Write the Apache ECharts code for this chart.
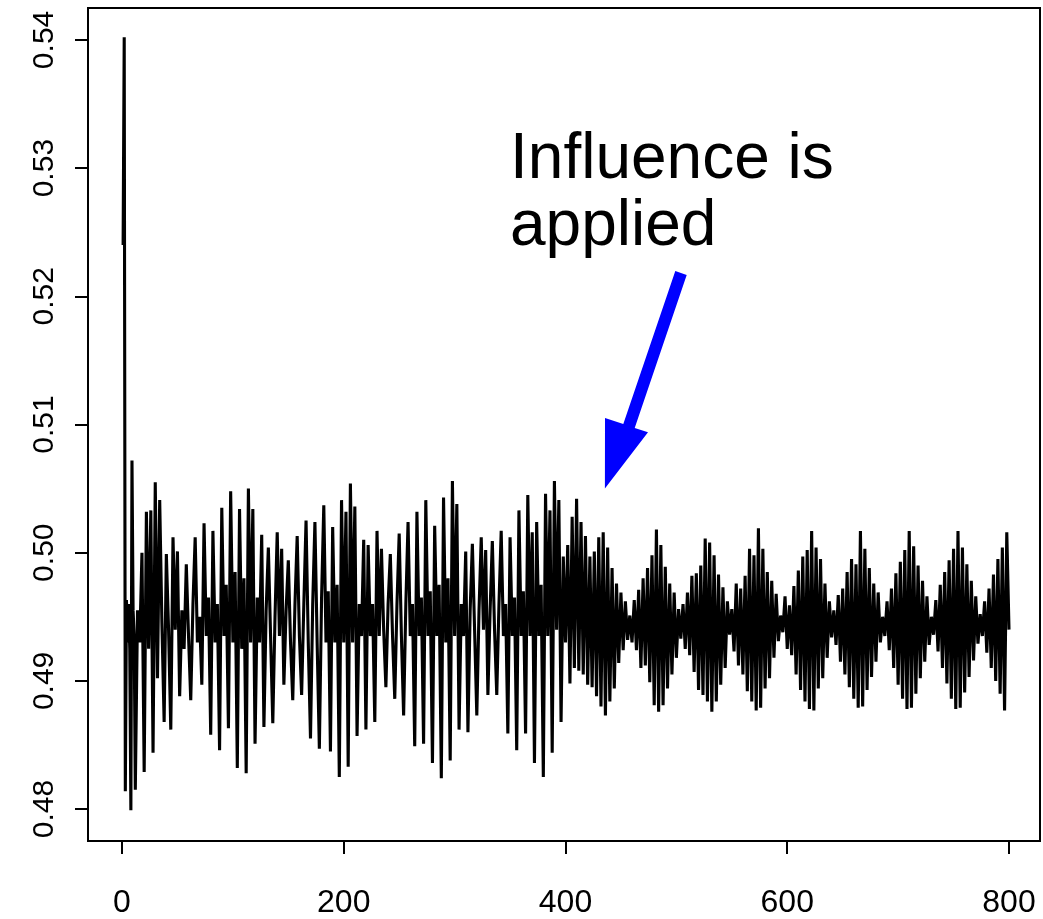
<!DOCTYPE html>
<html>
<head>
<meta charset="utf-8">
<script src="https://cdn.jsdelivr.net/npm/echarts@6/dist/echarts.min.js"></script>
<style>
html,body{margin:0;padding:0;background:#fff;}
#chart{width:1043px;height:919px;}
</style>
</head>
<body>
<div id="chart"></div>
<script>
// x = 1..11, step 1 (initial transient)
const startValues = [0.5240,0.5402,0.4814,0.4963,0.4930,0.4960,0.4925,0.4799,0.5072,0.4955,0.4935];
// x = 12..400, step 2
const firstHalfValues = [
0.4815,0.4955,0.4930,0.5000,0.4829,0.5032,0.4925,0.5033,0.4844,0.5055,
0.4902,0.5041,0.4945,0.4868,0.4999,0.4940,0.4862,0.5012,0.4940,0.5001,
0.4888,0.4955,0.4925,0.4991,0.4935,0.4885,0.4960,0.5012,0.4930,0.4950,
0.4897,0.5023,0.4935,0.4965,0.4858,0.5017,0.4930,0.4960,0.4846,0.5035,
0.4935,0.4975,0.4863,0.5048,0.4930,0.4985,0.4832,0.5034,0.4925,0.4980,
0.4828,0.5050,0.4930,0.5034,0.4851,0.4965,0.4930,0.5014,0.4864,0.4955,
0.5004,0.4935,0.4867,0.4950,0.5016,0.4935,0.5003,0.4897,0.4955,0.4994,
0.4930,0.4885,0.4960,0.5013,0.4935,0.4889,0.4960,0.5025,0.4930,0.4855,
0.4960,0.5024,0.4930,0.4847,0.4965,0.5037,0.4930,0.4970,0.4845,0.5020,
0.4930,0.4975,0.4825,0.5041,0.4930,0.5032,0.4833,0.5054,0.4930,0.5036,
0.4857,0.4960,0.4935,0.5010,0.4862,0.5006,0.4935,0.4960,0.4868,0.5017,
0.4935,0.5003,0.4940,0.4895,0.4960,0.4999,0.4935,0.4886,0.4960,0.5015,
0.4935,0.4873,0.4960,0.5024,0.4935,0.4960,0.4849,0.5032,0.4935,0.4965,
0.4851,0.5041,0.4935,0.4970,0.4836,0.5021,0.4935,0.4975,0.4824,0.5043,
0.4930,0.4980,0.4838,0.5056,0.4935,0.5038,0.4862,0.4960,0.4935,0.5001,
0.4860,0.4955,0.5007,0.4940,0.4873,0.4955,0.5012,0.4940,0.5002,0.4889,
0.4955,0.5009,0.4940,0.4889,0.4960,0.5017,0.4935,0.4960,0.4859,0.5012,
0.4935,0.4965,0.4846,0.5033,0.4935,0.4970,0.4859,0.5045,0.4935,0.5016,
0.4836,0.5024,0.4935,0.4975,0.4825,0.5046,0.4935,0.5033,0.4844,0.5056,
0.4940,0.5041,0.4868,0.4997,0.4930
];
// x = 402..800, step 2 (after influence is applied)
const secondHalfValues = [
0.5006,0.4898,0.5028,0.4910,0.5042,0.4908,0.5024,0.4905,0.5013,0.4897,
0.4997,0.4895,0.5001,0.4888,0.5012,0.4880,0.5016,0.4873,0.5004,0.4884,
0.4988,0.4894,0.4976,0.4914,0.4969,0.4924,0.4962,0.4932,0.4951,0.4930,
0.4963,0.4924,0.4971,0.4910,0.4980,0.4912,0.4988,0.4899,0.4998,0.4881,
0.5018,0.4876,0.5006,0.4881,0.4989,0.4894,0.4976,0.4905,0.4969,0.4918,
0.4956,0.4933,0.4960,0.4925,0.4969,0.4920,0.4982,0.4907,0.4984,0.4893,
0.4990,0.4889,0.5011,0.4884,0.5008,0.4876,0.4998,0.4884,0.4983,0.4897,
0.4973,0.4910,0.4962,0.4936,0.4956,0.4923,0.4976,0.4912,0.4972,0.4905,
0.4982,0.4892,0.5003,0.4884,0.4998,0.4877,0.5019,0.4879,0.5003,0.4894,
0.4985,0.4902,0.4978,0.4918,0.4968,0.4931,0.4951,0.4938,0.4966,0.4925,
0.4959,0.4920,0.4974,0.4905,0.4986,0.4893,0.4997,0.4884,0.5002,0.4878,
0.5017,0.4877,0.5004,0.4894,0.4995,0.4902,0.4976,0.4918,0.4962,0.4934,
0.4955,0.4928,0.4967,0.4915,0.4972,0.4905,0.4985,0.4895,0.4995,0.4886,
0.4991,0.4879,0.5017,0.4880,0.5003,0.4893,0.4988,0.4903,0.4976,0.4915,
0.4969,0.4930,0.4950,0.4935,0.4962,0.4924,0.4972,0.4910,0.4984,0.4897,
0.4993,0.4886,0.5002,0.4878,0.5017,0.4879,0.5005,0.4890,0.4990,0.4902,
0.4978,0.4915,0.4966,0.4928,0.4950,0.4936,0.4963,0.4923,0.4975,0.4910,
0.4985,0.4898,0.4994,0.4886,0.5003,0.4878,0.5017,0.4879,0.5004,0.4891,
0.4991,0.4903,0.4978,0.4916,0.4966,0.4929,0.4952,0.4935,0.4962,0.4922,
0.4972,0.4910,0.4983,0.4900,0.4995,0.4890,0.5004,0.4877,0.5016,0.4940
];
const xTickValues = [0, 200, 400, 600, 800];
const yTickValues = [0.48, 0.49, 0.50, 0.51, 0.52, 0.53, 0.54];
const annotationLines = ['Influence is', 'applied'];

const data = [];
startValues.forEach((v, i) => data.push([1 + i, v]));
firstHalfValues.forEach((v, i) => data.push([12 + 2 * i, v]));
secondHalfValues.forEach((v, i) => data.push([402 + 2 * i, v]));

const FONT = 'Liberation Sans, Arial, Helvetica, sans-serif';
const chart = echarts.init(document.getElementById('chart'), null, {renderer: 'canvas'});
chart.setOption({
  animation: false,
  backgroundColor: '#ffffff',
  grid: {left: 88, right: 3, top: 8, bottom: 76, show: true, borderColor: '#000', borderWidth: 2, backgroundColor: 'transparent'},
  xAxis: {
    type: 'value', min: -30.665, max: 827.96,
    axisLine: {show: false, onZero: false},
    splitLine: {show: false},
    axisTick: {show: true, length: 13, inside: false, customValues: xTickValues, lineStyle: {color: '#000', width: 2}},
    axisLabel: {customValues: xTickValues, color: '#000', fontFamily: FONT, fontSize: 32, margin: 46,
      formatter: v => String(Math.round(v))}
  },
  yAxis: {
    type: 'value', min: 0.47751, max: 0.542491,
    axisLine: {show: false, onZero: false},
    splitLine: {show: false},
    axisTick: {show: true, length: 13, inside: false, customValues: yTickValues, lineStyle: {color: '#000', width: 2}},
    axisLabel: {customValues: yTickValues, color: '#000', fontFamily: FONT, fontSize: 30, margin: 28, rotate: 90,
      formatter: v => v.toFixed(2)}
  },
  series: [{
    type: 'line', data: data, showSymbol: false, symbol: 'none',
    lineStyle: {color: '#000', width: 3.1}, silent: true, clip: true
  }],
  graphic: [
    {type: 'text', x: 510, y: 160, style: {text: annotationLines[0], fill: '#000', fontFamily: FONT, fontSize: 64, textVerticalAlign: 'middle'}},
    {type: 'text', x: 510, y: 227, style: {text: annotationLines[1], fill: '#000', fontFamily: FONT, fontSize: 64, textVerticalAlign: 'middle'}},
    {type: 'polygon', shape: {points: [[675.3,271.1],[686.7,274.9],[634.7,427.9],[648,432.2],[604.9,488.4],[605,418],[623.3,424.1]]},
      style: {fill: '#0000ff'}}
  ]
});
</script>
</body>
</html>
